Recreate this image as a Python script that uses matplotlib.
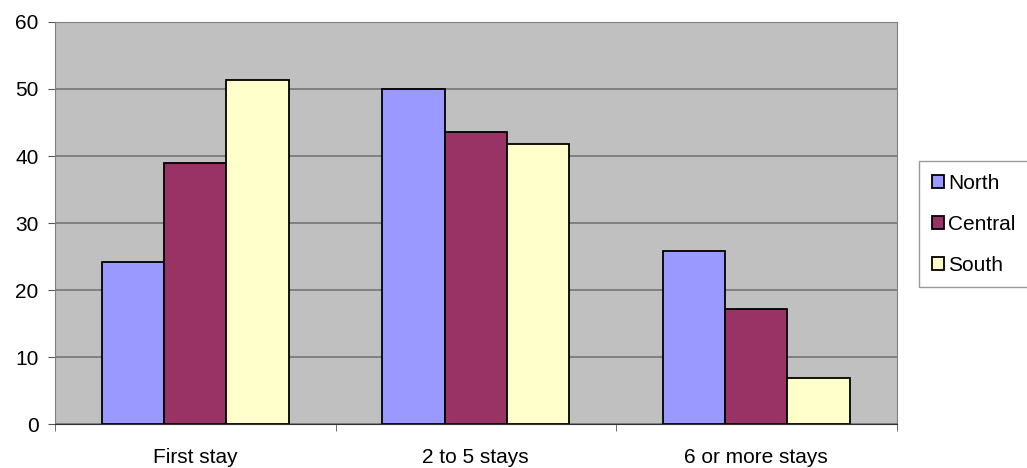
import matplotlib.pyplot as plt
import numpy as np

plt.rcParams['font.family'] = ['Liberation Sans', 'DejaVu Sans']

# data
categories = ['First stay', '2 to 5 stays', '6 or more stays']
regions = ['North', 'Central', 'South']
north = [24.2, 50.0, 25.8]
central = [39.0, 43.6, 17.2]
south = [51.4, 41.8, 6.8]
y_ticks = [0, 10, 20, 30, 40, 50, 60]

colors = ['#9999FF', '#993366', '#FFFFCC']

fig = plt.figure(figsize=(10.27, 4.68), dpi=100)
ax = fig.add_axes([0.0536, 0.094, 0.8194, 0.859])
ax.set_facecolor('#C0C0C0')

x = np.arange(len(categories))
w = 1 / 4.5  # excel gap width 150%
for i, (name, vals) in enumerate(zip(regions, [north, central, south])):
    ax.bar(x + (i - 1) * w, vals, width=w, color=colors[i], edgecolor='black',
           linewidth=1.3, label=name, zorder=3)

ax.set_xlim(-0.5, 2.5)
ax.set_ylim(0, 60)
ax.set_yticks(y_ticks)
ax.yaxis.grid(True, color='#6e6e6e', linewidth=1.1, zorder=1)
ax.set_axisbelow(True)

ax.set_xticks(x)
ax.set_xticklabels(categories, fontsize=15)
ax.set_xticks([-0.5, 0.5, 1.5, 2.5], minor=True)
ax.tick_params(axis='x', which='major', length=0, pad=17.5)
ax.tick_params(axis='x', which='minor', length=5, color='#555555')
ax.tick_params(axis='y', length=5, pad=7, labelsize=15, color='#555555')

for side in ['top', 'right', 'left']:
    ax.spines[side].set_color('#808080')
ax.spines['bottom'].set_color('#333333')
ax.spines['bottom'].set_zorder(4)

leg = fig.legend(loc='upper left', bbox_to_anchor=(0.895, 0.655), frameon=True,
                 fancybox=False, edgecolor='#808080', fontsize=15,
                 handlelength=0.6, handleheight=0.6, handletextpad=0.2,
                 labelspacing=1.05, borderpad=0.6, borderaxespad=0)
leg.get_frame().set_linewidth(1.0)

fig.savefig('out.png', dpi=100)
